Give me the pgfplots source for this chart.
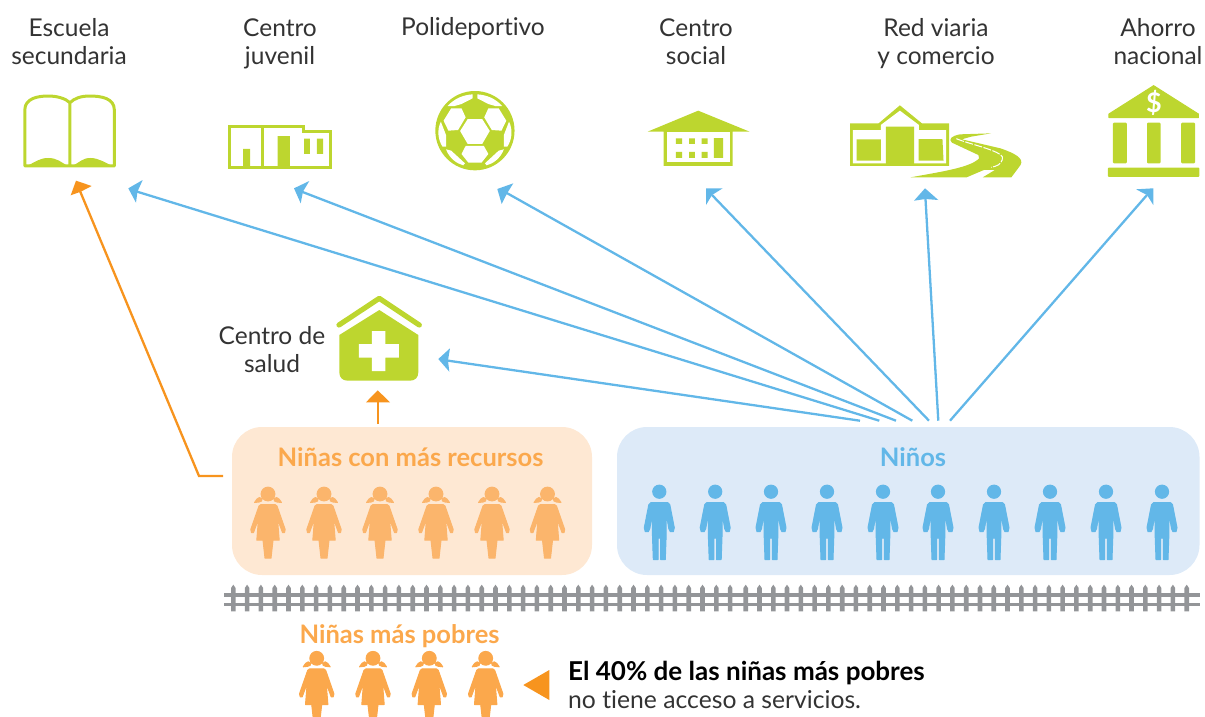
\documentclass[border=0pt]{standalone}
\usepackage{fontspec}
\setmainfont[Ligatures=NoCommon]{Lato}
\usepackage{pgfplots}
\pgfplotsset{compat=1.18}

\definecolor{leaf}{HTML}{BDD62F}
\definecolor{sky}{HTML}{62B7E8}
\definecolor{skybox}{HTML}{DDEAF8}
\definecolor{peachbox}{HTML}{FEE8D3}
\definecolor{peach}{HTML}{FBB56C}
\definecolor{orange}{HTML}{FBA84C}
\definecolor{arrow}{HTML}{F7941E}
\definecolor{fence}{HTML}{939598}
\definecolor{ink}{HTML}{333333}

% figures, one plot mark each
\newcommand\girlmark[2]{%
\pgfdeclareplotmark{#1}{%
  \path[x=1pt,y=-1pt,fill=#2,draw=#2,line width=1pt,line join=round]
    (0,0) circle[radius=6.9]
    (-7,10.5) -- (7,10.5) -- (9,12) -- (17.2,35.5) -- (16.5,38.5) -- (14.5,38.5) -- (9.5,25)
    -- (11.2,46.2) -- (5,46.2) -- (3,64.2) -- (-3,64.2) -- (-5,46.2) -- (-11.2,46.2)
    -- (-9.5,25) -- (-14.5,38.5) -- (-16.5,38.5) -- (-17.2,35.5) -- (-9,12) -- cycle
    (6,5) -- (8.5,3.5) -- (11,5) -- (13.5,8.5) -- (9,8) -- (6.5,7) -- cycle
    (-6,5) -- (-8.5,3.5) -- (-11,5) -- (-13.5,8.5) -- (-9,8) -- (-6.5,7) -- cycle;
}}
\girlmark{girlrich}{peach}
\girlmark{girlpoor}{orange}
\pgfdeclareplotmark{boy}{%
  \path[x=1pt,y=-1pt,fill=sky,draw=sky,line width=1pt,line join=round]
    (0,0) circle[radius=6.6]
    (-8.5,11) -- (8.5,11) -- (10.5,13) -- (15,36) -- (14,40) -- (11,40) -- (9.5,37) -- (7,22)
    -- (6.8,45) -- (6,67.8) -- (1.3,67.8) -- (1.3,46.5) -- (-1.3,46.5) -- (-1.3,67.8) -- (-6,67.8)
    -- (-6.8,45) -- (-7,22) -- (-9.5,37) -- (-11,40) -- (-14,40) -- (-15,36) -- (-10.5,13) -- cycle;
}
\pgfdeclareplotmark{post}{%
  \path[x=1pt,y=-1pt,fill=fence,draw=none]
    (-2.3,13.3) -- (-2.3,-10) -- (0,-13.3) -- (2.3,-10) -- (2.3,13.3) -- cycle;
}
% icons, drawn in the pixel grid of a crop, placed at the crop's corner
\pgfdeclareplotmark{book}{%
  \begin{scope}[x=0.3444pt,y=-0.3333pt]
  \path[draw=leaf,line width=3pt,line join=round]
    (72,258) -- (72,90) .. controls (72,55) and (110,48) .. (140,48) .. controls (165,48) and (190,55) .. (203,68)
    .. controls (216,55) and (235,48) .. (260,48) .. controls (295,48) and (332,55) .. (332,90) -- (332,258) -- cycle
    (203,68) -- (203,258);
  \path[fill=leaf,draw=none] (74,260) .. controls (105,245) and (115,234) .. (140,234) .. controls (165,234) and (175,245) .. (200,260) -- cycle
    (206,260) .. controls (235,245) and (240,234) .. (262,234) .. controls (285,234) and (300,245) .. (330,260) -- cycle;
  \end{scope}
}
\pgfdeclareplotmark{youth}{%
  \begin{scope}[x=0.3444pt,y=-0.3333pt]
  \path[draw=leaf,line width=3pt] (667,138) -- (881,138) -- (881,154) -- (961,154) -- (961,264) -- (667,264) -- cycle
    (763,138) -- (763,264);
  \path[fill=leaf,draw=none] (706,207) rectangle (726,264) (806,168) rectangle (842,264) (883,176) rectangle (900,222) (920,176) rectangle (938,222);
  \end{scope}
}
\pgfdeclareplotmark{ball}{%
  \begin{scope}[x=0.3444pt,y=-0.3333pt]
  \path[fill=leaf,draw=none] (1379,152) ellipse[x radius=115,y radius=119];
  \path[fill=white,draw=none,line join=round]
    (1358,117) -- (1400,117) -- (1422,153) -- (1400,192) -- (1358,192) -- (1336,153) -- cycle
    (1310,85) -- (1340,85) -- (1352,112) -- (1330,150) -- (1302,152) -- (1288,122) -- cycle
    (1448,85) -- (1418,85) -- (1406,112) -- (1428,150) -- (1456,152) -- (1470,122) -- cycle
    (1352,198) -- (1405,198) -- (1418,222) -- (1398,248) -- (1360,248) -- (1340,222) -- cycle
    (1300,78) .. controls (1320,55) and (1345,45) .. (1372,43) -- (1372,55) -- (1340,72) -- (1320,78) -- cycle
    (1458,78) .. controls (1438,55) and (1413,45) .. (1386,43) -- (1386,55) -- (1418,72) -- (1438,78) -- cycle
    (1280,125) -- (1295,165) -- (1295,200) -- (1285,200) .. controls (1272,180) and (1268,150) .. (1280,125) -- cycle
    (1478,125) -- (1463,165) -- (1463,200) -- (1473,200) .. controls (1486,180) and (1490,150) .. (1478,125) -- cycle
    (1295,208) -- (1310,212) -- (1350,250) -- (1345,256) .. controls (1325,250) and (1305,235) .. (1295,208) -- cycle
    (1463,208) -- (1448,212) -- (1408,250) -- (1413,256) .. controls (1433,250) and (1453,235) .. (1463,208) -- cycle;
  \end{scope}
}
\pgfdeclareplotmark{social}{%
  \begin{scope}[x=0.3667pt,y=-0.3333pt]
  \path[fill=leaf,draw=none] (48,155) -- (186,92) -- (326,155) -- (280,155) -- (280,258) -- (92,258) -- (92,155) -- cycle;
  \path[fill=white,draw=none] (100,155) rectangle (272,247);
  \path[fill=leaf,draw=none] (125,175) rectangle (142,192) (161,175) rectangle (177,192) (195,175) rectangle (212,192)
    (125,216) rectangle (142,234) (161,216) rectangle (177,234) (195,216) rectangle (212,234) (229,174) rectangle (254,234);
  \end{scope}
}
\pgfdeclareplotmark{shop}{%
  \begin{scope}[x=0.3667pt,y=-0.3333pt]
  \path[fill=leaf,draw=none] (600,130) -- (678,130) -- (736,76) -- (796,130) -- (870,130) -- (870,258) -- (600,258) -- cycle;
  \path[fill=white,draw=none] (608,150) -- (684,150) -- (684,135) -- (736,92) -- (788,135) -- (788,150) -- (862,150) -- (862,250) -- (608,250) -- cycle;
  \path[fill=leaf,draw=none] (618,178) rectangle (684,242) (698,140) rectangle (775,258)
    (795,177) -- (852,177) -- (855,242) -- (787,242) -- (787,177) -- cycle;
  \path[fill=leaf,draw=none] (765,292) .. controls (850,275) and (930,262) .. (952,235) -- (950,225) -- (878,188) .. controls (868,178) and (875,168) .. (900,163)
    -- (985,160) -- (930,170) -- (905,178) -- (1010,205) .. controls (1050,220) and (1075,235) .. (1065,255) -- (1040,292) -- (962,292) -- (995,270) -- (965,270) -- (918,292) -- cycle;
  \path[draw=white,line width=1pt,dash pattern=on 8pt off 1.5pt] (890,176) .. controls (930,195) and (1030,215) .. (1015,240) .. controls (1010,255) and (1000,258) .. (985,262);
  \end{scope}
}
\pgfdeclareplotmark{bank}{%
  \begin{scope}[x=0.3667pt,y=-0.3333pt]
  \path[fill=leaf,draw=leaf,line width=1pt,line join=round] (1428,17) -- (1550,102) -- (1550,113) -- (1306,113) -- (1306,102) -- cycle;
  \path[fill=leaf,draw=none,rounded corners=1pt] (1317,128) rectangle (1355,250) (1410,128) rectangle (1447,250) (1503,128) rectangle (1541,250) (1303,263) rectangle (1553,291);
  \node[text=white,font=\fontsize{27}{28}\bfseries\selectfont] at (1429,68) {\$};
  \end{scope}
}
\pgfdeclareplotmark{clinic}{%
  \begin{scope}[x=0.3333pt,y=-0.3333pt]
  \path[draw=leaf,line width=5.2pt,line cap=round,line join=round] (417,120) -- (538,40) -- (658,120);
  \path[fill=leaf,draw=none] (418,150) -- (538,75) -- (655,150) -- (655,262) .. controls (655,278) and (645,287) .. (630,287) -- (443,287) .. controls (428,287) and (418,278) .. (418,262) -- cycle;
  \path[fill=white,draw=none] (516,138) rectangle (556,258) (477,177) rectangle (597,218);
  \end{scope}
}

\newcommand\poly[2]{\addplot[fill=#1,draw=none] coordinates {#2};}
\newcommand\link[2]{\addplot[draw=#1,line width=2.3pt] coordinates {#2};}
\newcommand\lbl[3]{\node[anchor=base,inner sep=0pt,text=ink,font=\fontsize{24.5}{28}\selectfont] at (axis cs:#1,#2) {#3};}

\begin{document}
\begin{tikzpicture}
\begin{axis}[
  scale only axis,
  width=1205pt,
  height=716pt,
  xmin=0,xmax=1205,
  ymin=0,ymax=716,
  y dir=reverse,
  hide axis,
]
% rounded panels
\addplot[fill=peachbox,draw=none,rounded corners=30pt] coordinates {(232,427) (592,427) (592,575) (232,575)} -- cycle;
\addplot[fill=skybox,draw=none,rounded corners=30pt] coordinates {(617,427) (1199.5,427) (1199.5,575) (617,575)} -- cycle;

% fence
\poly{fence}{(223.5,593.3) (1200,593.3) (1200,596.5) (223.5,596.5)}
\poly{fence}{(223.5,602.5) (1200,602.5) (1200,605.5) (223.5,605.5)}
\addplot[only marks,mark=post] coordinates {
  (233.3,598) (247.1,598) (260.9,598) (274.7,598) (288.5,598) (302.3,598) (316.1,598) (329.9,598)
  (343.7,598) (357.5,598) (371.3,598) (385.1,598) (398.9,598) (412.7,598) (426.5,598) (440.3,598)
  (454.1,598) (467.9,598) (481.7,598) (495.5,598) (509.3,598) (523.1,598) (536.9,598) (550.7,598)
  (564.5,598) (578.3,598) (592.1,598) (605.9,598) (619.7,598) (633.5,598) (647.3,598) (661.1,598)
  (674.9,598) (688.7,598) (702.5,598) (716.3,598) (730.1,598)
  (745.7,598) (759.5,598) (773.3,598) (787.0,598) (800.8,598) (814.6,598) (828.4,598) (842.2,598)
  (855.9,598) (869.7,598) (883.5,598) (897.3,598) (911.1,598) (924.8,598) (938.6,598) (952.4,598)
  (966.2,598) (980.0,598) (993.7,598) (1007.5,598) (1021.3,598) (1035.1,598) (1048.9,598) (1062.6,598)
  (1076.4,598) (1090.2,598) (1104.0,598) (1117.8,598) (1131.5,598) (1145.3,598) (1159.1,598) (1172.9,598) (1186.7,598)
};

% people
\addplot[only marks,mark=girlrich] coordinates {(268,494) (324,494) (380,494) (436,494) (492,494) (547.5,494)};
\addplot[only marks,mark=boy] coordinates {(659.3,491.7) (715.2,491.7) (771,491.7) (827,491.7) (883,491.7) (938,491.7) (994,491.7) (1050,491.7) (1106,491.7) (1162,491.7)};
\addplot[only marks,mark=girlpoor] coordinates {(316.7,658.3) (373,658.3) (429.3,658.3) (485.7,658.3)};

% links, blue
\link{sky}{(879.3,420.7) (135,191)}
\link{sky}{(896,420.7) (300,191)}
\link{sky}{(912.3,420.7) (505,192)}
\link{sky}{(929,420.7) (712,195)}
\link{sky}{(938.3,420.7) (925.5,199)}
\link{sky}{(950,420.7) (1147,195)}
\link{sky}{(860,420.7) (447,360.5)}
% links, orange
\link{arrow}{(223,476) (199,476) (80,191)}
\link{arrow}{(377.7,424) (377.7,400)}

% heads
\poly{sky}{(128.3,188.3) (142.7,180) (137.5,191.5) (136,202.7)}
\poly{sky}{(294,188.3) (309.3,181) (303,191.5) (300.7,203.3)}
\poly{sky}{(497.3,189) (513.3,183.3) (507,193.5) (501.7,204)}
\poly{sky}{(706,188.3) (722.7,188.3) (712,195) (706,205)}
\poly{sky}{(925,188.3) (938.3,200) (925.5,199) (914,200.7)}
\poly{sky}{(1153.3,188.3) (1136,189.3) (1147,195) (1153.3,205)}
\poly{sky}{(438.3,359) (450,348.3) (448,360.5) (449.3,371.7)}
\poly{arrow}{(76,180.7) (91.7,186) (80.7,191.7) (70.7,195.3)}
\poly{arrow}{(377.7,390.3) (390,402.3) (366,402.3)}
\poly{arrow}{(523.3,685) (549.3,670) (549.3,700)}

% icons
\addplot[only marks,mark=book] coordinates {(0,80)};
\addplot[only marks,mark=youth] coordinates {(0,80)};
\addplot[only marks,mark=ball] coordinates {(0,80)};
\addplot[only marks,mark=social] coordinates {(630,80)};
\addplot[only marks,mark=shop] coordinates {(630,80)};
\addplot[only marks,mark=bank] coordinates {(630,80)};
\addplot[only marks,mark=clinic] coordinates {(200,285)};

% labels
\lbl{69}{36}{Escuela}
\lbl{69}{64}{secundaria}
\lbl{280}{36}{Centro}
\lbl{280}{64}{juvenil}
\lbl{473}{35}{Polideportivo}
\lbl{696}{36}{Centro}
\lbl{696}{64}{social}
\lbl{936}{36}{Red viaria}
\lbl{936}{64}{y comercio}
\lbl{1158}{36}{Ahorro}
\lbl{1158}{64}{nacional}
\lbl{272}{344}{Centro de}
\lbl{272}{372}{salud}
\node[anchor=base,inner sep=0pt,text=orange,font=\fontsize{25.5}{28}\bfseries\selectfont] at (axis cs:410.5,466) {Niñas con más recursos};
\node[anchor=base,inner sep=0pt,text=sky,font=\fontsize{25.5}{28}\bfseries\selectfont] at (axis cs:913,466) {Niños};
\node[anchor=base,inner sep=0pt,text=orange,font=\fontsize{25.5}{28}\bfseries\selectfont] at (axis cs:399.5,643) {Niñas más pobres};
\node[anchor=base west,inner sep=0pt,text=black,font=\fontsize{26}{28}\bfseries\selectfont] at (axis cs:568,680) {El 40\% de las niñas más pobres};
\node[anchor=base west,inner sep=0pt,text=ink,font=\fontsize{24.7}{28}\selectfont] at (axis cs:568,708) {no tiene acceso a servicios.};
\end{axis}
\pgfresetboundingbox
\useasboundingbox (0,0) rectangle (1205pt,716pt);
\end{tikzpicture}
\end{document}
